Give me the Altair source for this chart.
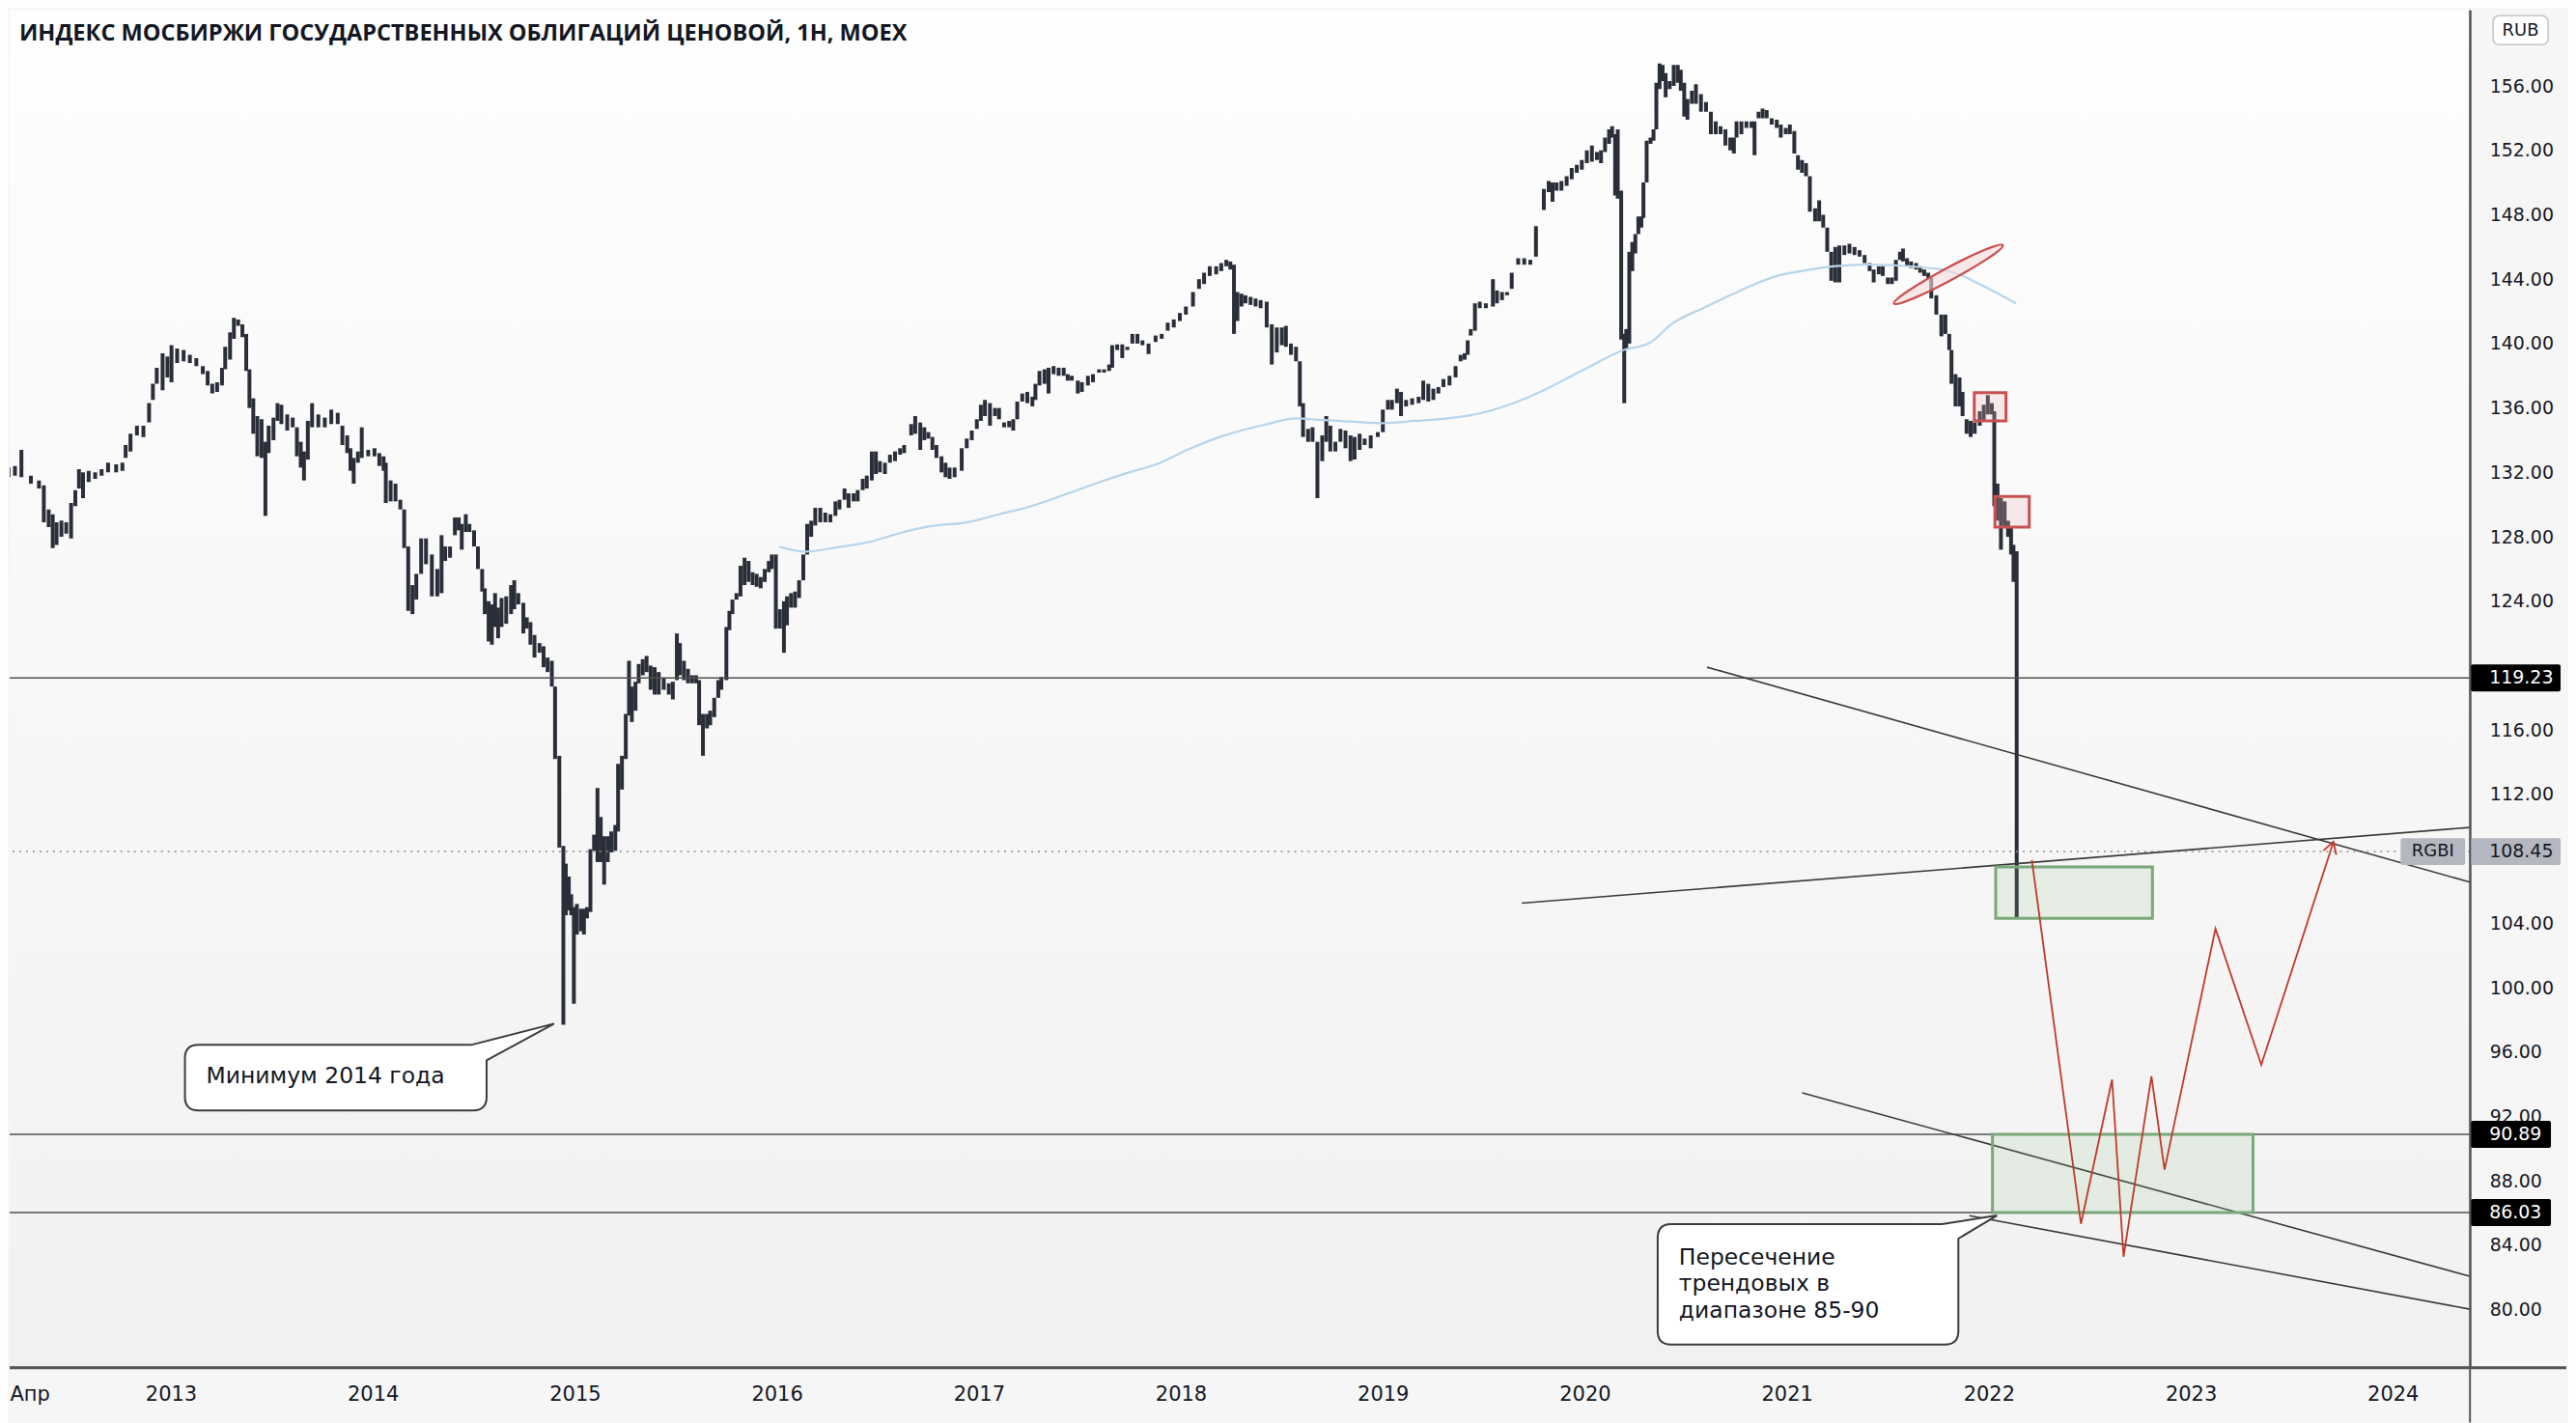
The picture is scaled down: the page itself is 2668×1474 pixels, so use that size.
import altair as alt
import pandas as pd

# ---------------- data ----------------
bar_t = [
    2012.196, 2012.228, 2012.26, 2012.307, 2012.347, 2012.371, 2012.395, 2012.415, 2012.434, 2012.458,
    2012.482, 2012.506, 2012.527, 2012.545, 2012.565, 2012.593, 2012.625, 2012.657, 2012.689, 2012.729,
    2012.76, 2012.776, 2012.8, 2012.832, 2012.864, 2012.892, 2012.911, 2012.93, 2012.959, 2012.983,
    2013.003, 2013.031, 2013.063, 2013.094, 2013.126, 2013.158, 2013.182, 2013.205, 2013.229, 2013.253,
    2013.269, 2013.293, 2013.312, 2013.333, 2013.354, 2013.373, 2013.389, 2013.408, 2013.428, 2013.449,
    2013.468, 2013.484, 2013.508, 2013.528, 2013.547, 2013.576, 2013.603, 2013.624, 2013.643, 2013.659,
    2013.678, 2013.699, 2013.73, 2013.762, 2013.794, 2013.826, 2013.849, 2013.873, 2013.889, 2013.905,
    2013.926, 2013.945, 2013.977, 2014.008, 2014.032, 2014.053, 2014.064, 2014.088, 2014.112, 2014.136,
    2014.155, 2014.175, 2014.196, 2014.215, 2014.239, 2014.263, 2014.292, 2014.319, 2014.34, 2014.358,
    2014.382, 2014.406, 2014.425, 2014.44, 2014.46, 2014.478, 2014.501, 2014.52, 2014.541, 2014.554,
    2014.573, 2014.589, 2014.605, 2014.62, 2014.637, 2014.66, 2014.684, 2014.7, 2014.72, 2014.745,
    2014.762, 2014.78, 2014.8, 2014.825, 2014.845, 2014.865, 2014.886, 2014.902, 2014.923, 2014.943,
    2014.955, 2014.97, 2014.982, 2014.995, 2015.01, 2015.03, 2015.045, 2015.06, 2015.077, 2015.095,
    2015.112, 2015.128, 2015.145, 2015.163, 2015.18, 2015.2, 2015.214, 2015.233, 2015.252, 2015.268,
    2015.282, 2015.3, 2015.316, 2015.336, 2015.355, 2015.375, 2015.395, 2015.415, 2015.44, 2015.465,
    2015.485, 2015.505, 2015.52, 2015.54, 2015.56, 2015.58, 2015.6, 2015.615, 2015.634, 2015.654,
    2015.67, 2015.69, 2015.71, 2015.725, 2015.75, 2015.765, 2015.78, 2015.8, 2015.82, 2015.84,
    2015.86, 2015.88, 2015.9, 2015.92, 2015.94, 2015.96, 2015.975, 2015.995, 2016.015, 2016.035,
    2016.05, 2016.07, 2016.09, 2016.11, 2016.131, 2016.15, 2016.17, 2016.19, 2016.215, 2016.24,
    2016.265, 2016.29, 2016.31, 2016.335, 2016.355, 2016.38, 2016.4, 2016.425, 2016.445, 2016.47,
    2016.49, 2016.51, 2016.535, 2016.56, 2016.585, 2016.61, 2016.63, 2016.665, 2016.685, 2016.71,
    2016.73, 2016.75, 2016.77, 2016.79, 2016.815, 2016.835, 2016.855, 2016.88, 2016.915, 2016.94,
    2016.965, 2016.99, 2017.01, 2017.03, 2017.055, 2017.08, 2017.1, 2017.125, 2017.15, 2017.17,
    2017.19, 2017.215, 2017.24, 2017.265, 2017.28, 2017.3, 2017.325, 2017.345, 2017.37, 2017.395,
    2017.42, 2017.44, 2017.46, 2017.49, 2017.51, 2017.54, 2017.565, 2017.595, 2017.62, 2017.645,
    2017.66, 2017.685, 2017.71, 2017.735, 2017.76, 2017.785, 2017.81, 2017.84, 2017.875, 2017.905,
    2017.935, 2017.965, 2017.995, 2018.025, 2018.06, 2018.09, 2018.115, 2018.143, 2018.175, 2018.2,
    2018.225, 2018.245, 2018.263, 2018.28, 2018.3, 2018.32, 2018.345, 2018.37, 2018.395, 2018.425,
    2018.45, 2018.475, 2018.5, 2018.52, 2018.545, 2018.57, 2018.589, 2018.605, 2018.63, 2018.652,
    2018.676, 2018.7, 2018.72, 2018.74, 2018.765, 2018.79, 2018.815, 2018.84, 2018.86, 2018.885,
    2018.91, 2018.94, 2018.975, 2019.0, 2019.025, 2019.045, 2019.07, 2019.09, 2019.115, 2019.145,
    2019.177, 2019.2, 2019.225, 2019.25, 2019.275, 2019.3, 2019.33, 2019.36, 2019.385, 2019.405,
    2019.42, 2019.435, 2019.456, 2019.48, 2019.51, 2019.545, 2019.565, 2019.59, 2019.615, 2019.638,
    2019.67, 2019.7, 2019.73, 2019.758, 2019.797, 2019.821, 2019.84, 2019.86, 2019.884, 2019.91,
    2019.935, 2019.96, 2019.985, 2020.01, 2020.035, 2020.06, 2020.08, 2020.1, 2020.12, 2020.135,
    2020.15, 2020.163, 2020.18, 2020.195, 2020.205, 2020.22, 2020.235, 2020.25, 2020.265, 2020.28,
    2020.29, 2020.306, 2020.325, 2020.34, 2020.354, 2020.37, 2020.385, 2020.4, 2020.42, 2020.44,
    2020.46, 2020.475, 2020.492, 2020.508, 2020.53, 2020.55, 2020.575, 2020.6, 2020.624, 2020.648,
    2020.672, 2020.696, 2020.72, 2020.738, 2020.751, 2020.775, 2020.8, 2020.825, 2020.84, 2020.86,
    2020.88, 2020.9, 2020.925, 2020.95, 2020.97, 2020.995, 2021.015, 2021.037, 2021.055, 2021.075,
    2021.095, 2021.114, 2021.14, 2021.16, 2021.18, 2021.2, 2021.22, 2021.24, 2021.26, 2021.285,
    2021.31, 2021.335, 2021.36, 2021.385, 2021.41, 2021.43, 2021.455, 2021.475, 2021.5, 2021.52,
    2021.54, 2021.56, 2021.575, 2021.595, 2021.615, 2021.64, 2021.66, 2021.68, 2021.7, 2021.715,
    2021.74, 2021.765, 2021.785, 2021.804, 2021.815, 2021.835, 2021.855, 2021.87, 2021.89, 2021.91,
    2021.93, 2021.955, 2021.975, 2021.995, 2022.015, 2022.027, 2022.043, 2022.06, 2022.078, 2022.095,
    2022.11, 2022.122, 2022.138,
]
bar_lo = [
    131.7, 131.8, 131.7, 131.3, 131.0, 128.9, 128.6, 127.3, 127.5, 128.0,
    128.2, 127.9, 129.9, 131.0, 130.4, 131.4, 131.6, 131.8, 132.0, 132.0,
    132.1, 132.9, 133.3, 134.3, 134.2, 135.1, 136.5, 137.5, 137.1, 137.9,
    137.6, 138.8, 138.9, 138.8, 138.6, 138.1, 137.4, 136.9, 137.0, 137.4,
    138.4, 139.0, 140.3, 141.1, 140.4, 138.3, 136.0, 134.4, 133.0, 132.9,
    129.3, 133.2, 134.0, 135.2, 135.0, 134.6, 134.8, 133.0, 132.3, 131.5,
    132.8, 134.8, 134.8, 134.8, 135.0, 135.0, 133.7, 133.2, 132.1, 131.3,
    132.6, 132.9, 133.0, 133.0, 132.4, 132.1, 130.1, 130.2, 130.2, 129.7,
    127.3, 123.4, 123.2, 124.1, 125.7, 126.3, 124.3, 124.3, 124.5, 126.5,
    126.7, 128.1, 128.4, 127.2, 128.3, 128.3, 127.4, 126.0, 124.6, 123.2,
    121.5, 121.3, 122.4, 121.7, 122.4, 122.6, 123.2, 123.5, 123.8, 122.0,
    122.3, 121.3, 120.5, 120.8, 119.9, 119.6, 118.7, 114.2, 108.7, 97.7,
    104.5, 104.8, 104.5, 99.0, 103.3, 103.5, 103.3, 104.3, 104.7, 108.5,
    107.8, 107.8, 106.4, 107.8, 108.4, 108.5, 109.7, 112.3, 114.2, 116.9,
    116.5, 117.2, 118.9, 119.4, 119.6, 118.5, 118.2, 118.2, 118.5, 118.2,
    117.9, 119.1, 119.4, 119.1, 118.9, 118.9, 118.9, 116.3, 114.4, 116.1,
    116.3, 116.8, 118.0, 118.5, 119.1, 122.2, 123.2, 124.1, 124.3, 125.0,
    125.2, 125.0, 124.9, 124.8, 125.2, 125.8, 126.0, 122.3, 122.3, 120.8,
    122.5, 123.6, 123.6, 124.2, 125.3, 126.9, 128.0, 128.7, 128.9, 128.9,
    128.9, 129.3, 129.7, 130.3, 129.8, 130.2, 130.2, 130.9, 131.0, 131.5,
    131.9, 132.0, 131.9, 132.6, 132.7, 133.1, 133.2, 134.3, 134.4, 133.4,
    134.0, 134.1, 133.4, 132.9, 132.0, 131.7, 131.6, 131.7, 132.1, 133.5,
    134.0, 134.7, 135.2, 135.5, 134.9, 135.5, 135.3, 134.8, 134.8, 134.6,
    135.3, 136.4, 136.3, 136.1, 136.5, 137.4, 137.5, 136.9, 138.1, 138.0,
    138.0, 137.7, 137.7, 136.9, 137.0, 137.4, 137.6, 138.2, 138.2, 138.3,
    138.5, 139.6, 139.1, 139.6, 140.0, 140.0, 139.9, 139.35, 140.1, 140.3,
    140.8, 141.0, 141.4, 141.8, 142.3, 143.4, 143.7, 144.2, 144.3, 144.5,
    144.8, 144.6, 140.6, 141.4, 142.3, 142.5, 142.4, 142.3, 142.2, 141.0,
    138.7, 139.45, 139.9, 139.8, 139.3, 138.9, 136.1, 134.2, 133.9, 133.9,
    130.4, 132.7, 133.9, 133.3, 133.3, 133.9, 133.5, 132.7, 132.8, 133.4,
    133.7, 133.5, 134.2, 134.5, 135.9, 135.9, 136.3, 135.5, 136.1, 136.2,
    136.3, 136.5, 136.4, 136.5, 136.9, 137.3, 137.4, 137.9, 138.9, 139.0,
    139.3, 140.5, 140.8, 142.2, 142.2, 142.3, 142.5, 142.7, 143.0, 143.4,
    144.9, 144.9, 144.9, 145.4, 148.3, 149.4, 148.8, 149.5, 149.5, 149.8,
    150.2, 150.6, 150.8, 151.2, 151.3, 151.4, 151.2, 151.9, 152.4, 152.8,
    149.2, 149.0, 140.25, 136.3, 139.7, 140.0, 144.5, 145.6, 146.8, 147.2,
    147.8, 150.0, 152.4, 152.6, 153.3, 155.8, 156.3, 155.3, 155.8, 156.0,
    156.2, 155.7, 154.1, 153.9, 154.9, 154.9, 154.4, 154.4, 153.0, 153.0,
    153.0, 152.3, 152.0, 151.8, 152.8, 153.0, 153.4, 153.4, 151.7, 154.0,
    154.0, 154.0, 153.6, 153.4, 152.8, 153.0, 153.0, 151.8, 150.8, 150.6,
    150.4, 148.2, 147.6, 147.6, 147.2, 145.7, 143.9, 143.8, 143.8, 145.5,
    145.6, 145.5, 145.4, 145.0, 144.5, 143.8, 144.3, 144.2, 143.7, 143.7,
    143.9, 145.2, 145.1, 144.8, 144.7, 144.6, 144.4, 144.2, 144.0, 142.8,
    141.8, 140.45, 140.6, 139.6, 137.5, 136.1, 136.1, 135.5, 134.4, 134.2,
    134.4, 134.9, 135.2, 135.6, 135.6, 129.9, 129.0, 127.2, 128.6, 128.0,
    126.9, 125.2, 104.3,
]
bar_hi = [
    132.3, 132.4, 133.4, 131.8, 131.5, 131.2, 129.7, 129.4, 128.9, 129.0,
    128.9, 130.1, 130.9, 132.2, 132.0, 132.1, 132.0, 132.2, 132.6, 132.5,
    132.6, 133.7, 134.4, 134.9, 134.9, 136.3, 137.5, 138.5, 139.4, 139.2,
    139.9, 139.7, 139.6, 139.3, 139.1, 138.6, 138.3, 137.5, 137.6, 138.5,
    139.8, 140.7, 141.6, 141.5, 141.2, 140.6, 138.4, 136.6, 135.5, 135.3,
    133.9, 134.9, 135.4, 136.3, 136.2, 135.6, 135.4, 134.8, 133.9, 133.3,
    135.2, 136.3, 135.6, 135.4, 135.9, 135.7, 134.9, 134.3, 133.5, 132.9,
    133.3, 134.8, 133.4, 133.5, 133.2, 133.0, 132.6, 131.5, 131.3, 130.3,
    129.7, 127.4, 125.0, 125.7, 127.9, 127.9, 126.9, 126.0, 128.1, 127.4,
    127.4, 129.2, 129.2, 128.8, 129.4, 128.8, 128.4, 127.4, 126.0, 124.8,
    124.0, 123.8, 124.5, 123.6, 124.2, 124.3, 125.0, 125.3, 124.5, 123.9,
    123.0, 122.7, 121.9, 121.4, 121.2, 120.5, 120.3, 118.7, 114.4, 108.8,
    107.7, 106.9, 105.8, 105.0, 105.2, 104.9, 104.9, 105.0, 108.6, 109.5,
    112.4, 110.6, 109.4, 109.4, 109.7, 110.1, 113.9, 114.4, 117.0, 120.3,
    118.7, 119.0, 120.1, 120.4, 120.6, 120.0, 119.9, 119.6, 119.2, 118.9,
    119.0, 122.0, 121.4, 120.3, 119.8, 119.4, 119.4, 119.1, 117.0, 117.0,
    117.2, 118.0, 119.1, 119.3, 122.4, 123.4, 124.1, 124.5, 126.2, 126.7,
    126.5, 125.8, 125.7, 125.5, 126.0, 126.5, 126.9, 126.9, 123.5, 124.0,
    124.3, 124.5, 124.6, 125.3, 126.9, 128.8, 129.0, 129.8, 129.8, 129.5,
    129.4, 130.2, 130.3, 131.0, 130.7, 130.7, 130.9, 131.6, 131.8, 133.3,
    133.3, 132.7, 132.6, 133.1, 133.3, 133.5, 133.7, 135.0, 135.5, 135.1,
    134.8, 134.5, 134.2, 133.7, 133.0, 132.6, 132.3, 132.3, 133.5, 134.1,
    134.6, 135.3, 136.2, 136.5, 136.3, 136.0, 136.0, 135.1, 135.2, 135.3,
    136.4, 136.9, 137.0, 136.7, 137.5, 138.3, 138.4, 138.5, 138.6, 138.5,
    138.5, 138.1, 138.0, 137.7, 137.6, 138.0, 138.1, 138.4, 138.4, 138.7,
    139.9, 139.95, 139.95, 139.8, 140.6, 140.6, 140.2, 140.0, 140.5, 140.6,
    141.3, 141.5, 141.9, 142.3, 143.2, 144.0, 144.4, 144.8, 144.8, 145.0,
    145.2, 145.1, 144.9, 143.2, 143.1, 143.0, 142.9, 142.8, 142.7, 142.6,
    141.2, 141.0, 141.0, 141.1, 140.0, 139.8, 138.9, 136.3, 134.7, 134.8,
    133.9, 134.3, 135.5, 134.9, 133.9, 134.7, 134.6, 134.3, 134.2, 134.4,
    134.1, 134.3, 134.5, 135.9, 136.5, 136.5, 137.2, 137.0, 136.5, 136.6,
    136.7, 137.7, 137.5, 137.2, 137.3, 137.8, 138.0, 138.6, 139.3, 139.4,
    140.2, 140.9, 142.5, 142.6, 142.5, 144.0, 143.3, 143.2, 143.2, 144.4,
    145.3, 145.3, 145.2, 147.3, 149.6, 150.1, 150.0, 150.0, 150.1, 150.4,
    150.9, 151.1, 151.4, 152.0, 152.3, 151.9, 152.0, 152.8, 153.3, 153.5,
    153.0, 153.3, 149.5, 140.6, 140.9, 145.7, 146.3, 146.8, 147.9, 147.9,
    150.0, 152.6, 152.8, 153.3, 156.2, 157.4, 157.3, 156.8, 156.3, 157.3,
    157.3, 157.0, 156.2, 155.2, 155.7, 156.1, 155.5, 155.0, 154.4, 153.8,
    153.5, 153.3, 152.8, 152.8, 153.8, 153.8, 153.8, 153.8, 153.8, 154.4,
    154.6, 154.5, 154.0, 153.9, 153.6, 153.4, 153.6, 153.2, 151.7, 151.4,
    151.2, 150.4, 148.4, 148.9, 148.0, 147.2, 145.7, 146.0, 146.1, 146.1,
    146.2, 146.0, 145.8, 145.5, 145.0, 144.6, 144.8, 144.8, 144.1, 144.1,
    145.2, 145.7, 145.9, 145.3, 145.1, 145.0, 144.8, 144.6, 144.4, 144.1,
    143.0, 141.8, 141.8, 140.6, 139.6, 138.1, 137.9, 137.0, 135.3, 135.2,
    135.1, 135.8, 136.2, 136.8, 136.3, 135.8, 131.3, 130.4, 130.2, 129.0,
    128.6, 127.5, 127.1,
]

# 200-period moving average (light blue)
ma_t = [2016.012, 2016.139, 2016.3, 2016.457, 2016.6, 2016.775, 2016.934, 2017.1, 2017.252, 2017.41,
        2017.57, 2017.73, 2017.888, 2018.05, 2018.207, 2018.414, 2018.573, 2018.684, 2018.843, 2019.002,
        2019.16, 2019.32, 2019.479, 2019.638, 2019.797, 2019.92, 2020.036, 2020.179, 2020.322, 2020.433,
        2020.592, 2020.72, 2020.831, 2020.95, 2021.069, 2021.228, 2021.4, 2021.546, 2021.7, 2021.785,
        2021.87, 2021.944, 2022.03, 2022.135]
ma_p = [127.38, 127.08, 127.35, 127.68, 128.2, 128.68, 128.88, 129.4, 129.88, 130.55,
        131.27, 131.95, 132.55, 133.5, 134.26, 134.96, 135.36, 135.26, 135.16, 135.06,
        135.2, 135.36, 135.66, 136.26, 137.1, 137.9, 138.65, 139.55, 140.05, 141.24,
        142.24, 143.0, 143.64, 144.2, 144.5, 144.8, 144.9, 144.85, 144.7, 144.55,
        144.2, 143.75, 143.2, 142.5]

# horizontal levels
level_prices = [119.23, 90.89, 86.03]
last_price = 108.45

# trend lines (id, time, price)
tl_id = ["a", "a", "b", "b", "c", "c", "d", "d"]
tl_t = [2020.605, 2024.382, 2019.688, 2024.382, 2021.076, 2024.382, 2021.904, 2024.382]
tl_p = [119.9, 106.55, 105.25, 109.95, 93.47, 82.07, 85.84, 80.03]

# green zones
g_t1 = [2022.034, 2022.018]
g_t2 = [2022.81, 2023.308]
g_p1 = [104.3, 86.03]
g_p2 = [107.5, 90.89]

# red boxes
r_t1 = [2021.928, 2022.03]
r_t2 = [2022.085, 2022.2]
r_p1 = [135.2, 128.6]
r_p2 = [136.95, 130.5]

# red ellipse centre
ell_t = [2021.8]
ell_p = [144.3]

# forecast path (red)
fc_t = [2022.213, 2022.456, 2022.61, 2022.667, 2022.805, 2022.87, 2023.122, 2023.349, 2023.706]
fc_p = [107.93, 85.33, 94.29, 83.29, 94.49, 88.69, 103.66, 95.21, 109.06]

# callouts (anchor = pointer tip)
c1_t, c1_p = [2014.897], [97.76]
c2_t, c2_p = [2022.04], [85.85]

title_text = "ИНДЕКС МОСБИРЖИ ГОСУДАРСТВЕННЫХ ОБЛИГАЦИЙ ЦЕНОВОЙ, 1Н, MOEX"
X0, X1 = 2012.2018, 2024.382
x_ticks = [X0] + list(range(2013, 2025))
# price labels (those hidden behind the price badges are left out)
y_ticks = [v for v in range(80, 157, 4) if v not in (108, 120)]

# ---------------- layout ----------------
W, H = 2553, 1408
xs = alt.Scale(domain=[X0, X1], nice=False, zero=False)
ys = alt.Scale(domain=[76.456, 160.716], nice=False, zero=False)
AX = "#555555"
TXT = "#131722"
FONT = "DejaVu Sans"

x_axis = alt.Axis(values=x_ticks, labelExpr="datum.value < 2012.5 ? 'Апр' : format(datum.value, 'd')",
                  labelAlign={"condition": {"test": "datum.value < 2012.5", "value": "left"},
                              "value": "center"},
                  grid=False, ticks=False, domain=True, domainColor=AX, domainWidth=3,
                  labelFont=FONT, labelFontSize=21, labelColor=TXT, labelPadding=18,
                  labelFlush=False, labelOverlap=False, title=None)
y_axis = alt.Axis(orient="right", values=y_ticks, format=".2f", grid=False, ticks=False,
                  domain=True, domainColor=AX, domainWidth=2,
                  labelFont=FONT, labelFontSize=19, labelColor=TXT, labelPadding=20,
                  labelFlush=False, labelOverlap=False, title=None)


def X(f):
    return alt.X(f, scale=xs, axis=x_axis, title=None)


def Y(f):
    return alt.Y(f, scale=ys, axis=y_axis, title=None)


one = pd.DataFrame({"k": [0]})

bg = alt.Chart(one).mark_rect(
    color=alt.Gradient(gradient="linear",
                       stops=[alt.GradientStop(color="#fefefe", offset=0),
                              alt.GradientStop(color="#f1f1f1", offset=1)],
                       x1=0, x2=0, y1=0, y2=1)
).encode(x=alt.value(0), x2=alt.value(W), y=alt.value(0), y2=alt.value(H))

assert len(bar_t) == len(bar_lo) == len(bar_hi)
bars_df = pd.DataFrame({"t": bar_t, "lo": bar_lo, "hi": bar_hi})
bars = alt.Chart(bars_df).mark_rule(color="#2a2e39", strokeWidth=4, clip=True).encode(
    x=X("t:Q"), y=Y("lo:Q"), y2="hi:Q")

levels = alt.Chart(pd.DataFrame({"p": level_prices})).mark_rule(
    color="#505050", strokeWidth=1.6).encode(y=Y("p:Q"))

dotted = alt.Chart(pd.DataFrame({"p": [last_price]})).mark_rule(
    color="#8a8d96", strokeWidth=1.5, strokeDash=[2, 5]).encode(y=Y("p:Q"))

ma = alt.Chart(pd.DataFrame({"t": ma_t, "p": ma_p})).mark_line(
    color="#b7d5ea", strokeWidth=2.2, interpolate="monotone").encode(x=X("t:Q"), y=Y("p:Q"))

trend = alt.Chart(pd.DataFrame({"id": tl_id, "t": tl_t, "p": tl_p})).mark_line(
    color="#3a3a3a", strokeWidth=1.6, clip=True).encode(x=X("t:Q"), y=Y("p:Q"), detail="id:N")

green = alt.Chart(pd.DataFrame({"t1": g_t1, "t2": g_t2, "p1": g_p1, "p2": g_p2})).mark_rect(
    fill="#8fbf8f", fillOpacity=0.16, stroke="#79a879", strokeWidth=3).encode(
    x=X("t1:Q"), x2="t2:Q", y=Y("p1:Q"), y2="p2:Q")

red = alt.Chart(pd.DataFrame({"t1": r_t1, "t2": r_t2, "p1": r_p1, "p2": r_p2})).mark_rect(
    fill="#f0b8b8", fillOpacity=0.25, stroke="#c85050", strokeWidth=3).encode(
    x=X("t1:Q"), x2="t2:Q", y=Y("p1:Q"), y2="p2:Q")

ellipse = alt.Chart(pd.DataFrame({"t": ell_t, "p": ell_p})).mark_point(
    shape="M -64 0 A 64 6.5 0 1 1 64 0 A 64 6.5 0 1 1 -64 0 Z", size=4, angle=331.8,
    filled=True, fill="#f6dada", fillOpacity=0.6, stroke="#c85050", strokeWidth=2.3, opacity=1).encode(
    x=X("t:Q"), y=Y("p:Q"))

fc_df = pd.DataFrame({"t": fc_t, "p": fc_p, "o": list(range(len(fc_t)))})
forecast = alt.Chart(fc_df).mark_line(color="#c0392b", strokeWidth=1.8).encode(
    x=X("t:Q"), y=Y("p:Q"), order="o:Q")
arrow = alt.Chart(fc_df.tail(1)).mark_point(
    shape="M -7 12 L 0 0 L 7 12", size=4, angle=18, filled=False,
    stroke="#c0392b", strokeWidth=1.8, opacity=1).encode(x=X("t:Q"), y=Y("p:Q"))

bubble1_path = ("M -369 22 L -86 22 L 0 0 L -70 38 L -70 76 Q -70 90 -84 90 "
                "L -369 90 Q -383 90 -383 76 L -383 36 Q -383 22 -369 22 Z")
bubble2_path = ("M -338 9 L -57 9 L 0 0 L -40 24 L -40 120 Q -40 134 -54 134 "
                "L -338 134 Q -352 134 -352 120 L -352 23 Q -352 9 -338 9 Z")
c1 = pd.DataFrame({"t": c1_t, "p": c1_p})
c2 = pd.DataFrame({"t": c2_t, "p": c2_p})
bub1 = alt.Chart(c1).mark_point(shape=bubble1_path, size=4, filled=True, fill="#ffffff",
                                stroke="#3c3c3c", strokeWidth=2, opacity=1).encode(x=X("t:Q"), y=Y("p:Q"))
bub2 = alt.Chart(c2).mark_point(shape=bubble2_path, size=4, filled=True, fill="#ffffff",
                                stroke="#3c3c3c", strokeWidth=2, opacity=1).encode(x=X("t:Q"), y=Y("p:Q"))
txt1 = alt.Chart(c1).mark_text(text="Минимум 2014 года", align="left", baseline="middle",
                               font=FONT, fontSize=23.5, color=TXT, dx=-361, dy=55).encode(
    x=X("t:Q"), y=Y("p:Q"))
txt2 = alt.Chart(c2).mark_text(text=["Пересечение", "трендовых в", "диапазоне 85-90"],
                               align="left", baseline="middle", lineHeight=27.5,
                               font=FONT, fontSize=23.5, color=TXT, dx=-330, dy=44).encode(
    x=X("t:Q"), y=Y("p:Q"))

title = alt.Chart(one).mark_text(text=title_text, align="left", baseline="middle",
                                 font="Open Sans", fontWeight="bold", fontSize=23.6, color=TXT).encode(
    x=alt.value(10), y=alt.value(24.5))

# price badges on the right scale
black_df = pd.DataFrame({"p": level_prices, "lab": [f"{v:.2f}" for v in level_prices]})
gray_df = pd.DataFrame({"p": [last_price], "lab": [f"{last_price:.2f}"]})
badge_black6 = alt.Chart(black_df[black_df.p >= 100]).mark_rect(
    color="#000000", yOffset=-14, y2Offset=14, cornerRadius=2).encode(
    x=alt.value(W + 1), x2=alt.value(W + 94), y=Y("p:Q"), y2="p:Q")
badge_black5 = alt.Chart(black_df[black_df.p < 100]).mark_rect(
    color="#000000", yOffset=-14, y2Offset=14, cornerRadius=2).encode(
    x=alt.value(W + 1), x2=alt.value(W + 84), y=Y("p:Q"), y2="p:Q")
badge_gray = alt.Chart(gray_df).mark_rect(
    color="#b4b7bf", yOffset=-14, y2Offset=14, cornerRadius=2).encode(
    x=alt.value(W + 1), x2=alt.value(W + 94), y=Y("p:Q"), y2="p:Q")
badge_rgbi = alt.Chart(gray_df).mark_rect(
    color="#b4b7bf", yOffset=-14, y2Offset=14, cornerRadius=2).encode(
    x=alt.value(W - 72), x2=alt.value(W - 5), y=Y("p:Q"), y2="p:Q")
badge_txt_w = alt.Chart(black_df).mark_text(
    align="left", baseline="middle", font=FONT, fontSize=19, color="#ffffff").encode(
    x=alt.value(W + 20), y=Y("p:Q"), text="lab:N")
badge_txt_g = alt.Chart(gray_df).mark_text(
    align="left", baseline="middle", font=FONT, fontSize=19, color=TXT).encode(
    x=alt.value(W + 20), y=Y("p:Q"), text="lab:N")
rgbi_txt = alt.Chart(gray_df).mark_text(
    text="RGBI", align="center", baseline="middle", font=FONT, fontSize=18, color=TXT).encode(
    x=alt.value(W - 38.5), y=Y("p:Q"))

rub_box = alt.Chart(one).mark_rect(fill="#ffffff", stroke="#c4c4c4", strokeWidth=1.5,
                                   cornerRadius=6).encode(
    x=alt.value(W + 24), x2=alt.value(W + 81), y=alt.value(6), y2=alt.value(36))
rub_txt = alt.Chart(one).mark_text(text="RUB", align="center", baseline="middle",
                                   font=FONT, fontSize=18, color=TXT).encode(
    x=alt.value(W + 52.5), y=alt.value(21.5))

vline = alt.Chart(one).mark_rule(color=AX, strokeWidth=2).encode(
    x=alt.value(W), y=alt.value(0), y2=alt.value(H + 58))
hline = alt.Chart(one).mark_rule(color=AX, strokeWidth=3).encode(
    x=alt.value(0), x2=alt.value(W + 100), y=alt.value(H + 1))

chart = alt.layer(
    bg, bars, levels, dotted, ma, trend, green, red, ellipse, forecast, arrow,
    bub1, bub2, txt1, txt2, title,
    badge_black6, badge_black5, badge_gray, badge_rgbi, badge_txt_w, badge_txt_g, rgbi_txt,
    rub_box, rub_txt, vline, hline,
).properties(width=W, height=H, padding=0, background="#f6f6f6").configure_view(stroke=None)

chart.save("out.html", embed_options={"renderer": "svg", "actions": False})
